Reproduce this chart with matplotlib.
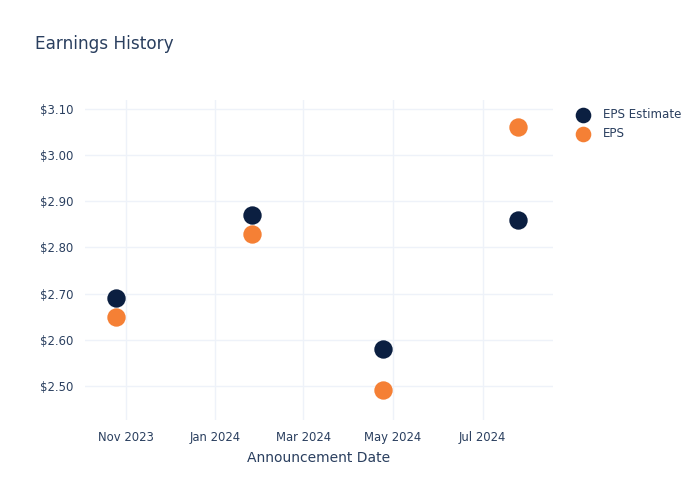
import matplotlib.pyplot as plt
import matplotlib.dates as mdates
from matplotlib.ticker import FuncFormatter
import pandas as pd

# announcement dates and EPS values
dates = pd.to_datetime(["2023-10-25", "2024-01-26", "2024-04-24", "2024-07-25"])
eps_estimate = [2.69, 2.87, 2.58, 2.86]
eps_actual = [2.65, 2.83, 2.49, 3.06]

text_color = "#2a3f5f"
grid_color = "#eef2f9"

fig = plt.figure(figsize=(7, 5), dpi=100)
ax = fig.add_axes([0.121, 0.16, 0.669, 0.64])

ax.scatter(dates, eps_estimate, s=175, color="#0b1f41", label="EPS Estimate", zorder=3, linewidths=0)
ax.scatter(dates, eps_actual, s=175, color="#f58035", label="EPS", zorder=3, linewidths=0)

ax.set_xlim(pd.Timestamp("2023-10-04"), pd.Timestamp("2024-08-18"))
ax.set_ylim(2.426, 3.1195)
ax.set_yticks([2.5, 2.6, 2.7, 2.8, 2.9, 3.0, 3.1])
ax.yaxis.set_major_formatter(FuncFormatter(lambda v, p: f"${v:.2f}"))
ax.xaxis.set_major_locator(mdates.MonthLocator(bymonth=[1, 3, 5, 7, 11]))
ax.xaxis.set_major_formatter(mdates.DateFormatter("%b %Y"))

ax.grid(True, color=grid_color, linewidth=1)
ax.set_axisbelow(True)
for s in ax.spines.values():
    s.set_visible(False)
ax.tick_params(length=0, labelsize=8.4, labelcolor=text_color, pad=8)

ax.set_xlabel("Announcement Date", fontsize=10, color=text_color, labelpad=5)
fig.text(0.05, 0.912, "Earnings History", fontsize=12.2, color=text_color, va="center")

fig.legend(loc="upper left", bbox_to_anchor=(0.801, 0.806), frameon=False,
           fontsize=8.6, labelcolor=text_color, handletextpad=0.6,
           labelspacing=0.5, markerscale=0.85)

fig.savefig("out.png", dpi=100)
